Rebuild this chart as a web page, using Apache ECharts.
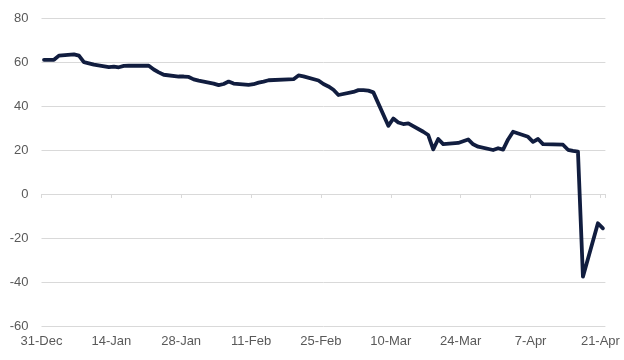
<!DOCTYPE html>
<html>
<head>
<meta charset="utf-8">
<script src="https://cdn.jsdelivr.net/npm/echarts@6/dist/echarts.min.js"></script>
<style>
html,body{margin:0;padding:0;background:#fff;}
#chart{width:624px;height:360px;}
</style>
</head>
<body>
<div id="chart"></div>
<script>
var startDate = '2019-12-31';
var tickLabels = ['31-Dec','14-Jan','28-Jan','11-Feb','25-Feb','10-Mar','24-Mar','7-Apr','21-Apr'];
var yTicks = [-60,-40,-20,0,20,40,60,80];
var dates = [
'2019-12-31','2020-01-02','2020-01-03','2020-01-06','2020-01-07','2020-01-08','2020-01-09','2020-01-10',
'2020-01-13','2020-01-14','2020-01-15','2020-01-16','2020-01-17','2020-01-21','2020-01-22','2020-01-23',
'2020-01-24','2020-01-27','2020-01-28','2020-01-29','2020-01-30','2020-01-31','2020-02-03','2020-02-04',
'2020-02-05','2020-02-06','2020-02-07','2020-02-10','2020-02-11','2020-02-12','2020-02-13','2020-02-14',
'2020-02-18','2020-02-19','2020-02-20','2020-02-21','2020-02-24','2020-02-25','2020-02-26','2020-02-27',
'2020-02-28','2020-03-02','2020-03-03','2020-03-04','2020-03-05','2020-03-06','2020-03-09','2020-03-10',
'2020-03-11','2020-03-12','2020-03-13','2020-03-16','2020-03-17','2020-03-18','2020-03-19','2020-03-20',
'2020-03-23','2020-03-24','2020-03-25','2020-03-26','2020-03-27','2020-03-30','2020-03-31','2020-04-01',
'2020-04-02','2020-04-03','2020-04-06','2020-04-07','2020-04-08','2020-04-09','2020-04-13','2020-04-14',
'2020-04-15','2020-04-16','2020-04-17','2020-04-20','2020-04-21'
];
var values = [
61.0,61.0,62.9,63.5,62.9,59.9,59.4,58.8,
57.7,57.9,57.6,58.2,58.3,58.3,56.6,55.3,
54.2,53.4,53.4,53.2,52.1,51.5,50.2,49.5,
50.0,51.1,50.2,49.6,49.9,50.6,51.1,51.7,
52.1,52.2,53.9,53.5,51.6,50.0,48.9,47.4,
45.0,46.4,47.2,47.2,47.0,46.2,31.0,34.3,
32.5,31.8,32.1,28.3,26.8,20.3,25.0,22.7,
23.2,24.0,24.8,22.6,21.5,20.0,20.8,20.2,
24.8,28.3,26.0,23.7,25.0,22.7,22.4,20.1,
19.6,19.3,-37.6,-13.3,-15.6
];

var DAY = 86400000;
var t0 = Date.parse(startDate + 'T00:00:00Z');
function dayNum(s){ return (Date.parse(s + 'T00:00:00Z') - t0) / DAY; }
// Excel date axis: points sit in the middle of their day slot
var seriesData = dates.map(function(d,i){ return [dayNum(d) + 0.5, values[i]]; });
var xMax = dayNum('2020-04-22');

var textColor = '#595959';
var gridColor = '#d9d9d9';
var font = 'Arial, "Liberation Sans", sans-serif';

var chart = echarts.init(document.getElementById('chart'), null, {renderer:'canvas'});
chart.setOption({
  animation: false,
  backgroundColor: '#ffffff',
  grid: {left: 41.5, right: 18.6, top: 18, bottom: 34, containLabel: false},
  xAxis: [{
    type: 'value', min: 0, max: xMax, interval: 14, position: 'bottom',
    axisLine: {show: false, onZero: false},
    axisTick: {show: false},
    splitLine: {show: false},
    axisLabel: {
      show: true, color: textColor, fontSize: 13, fontFamily: font, margin: 9,
      showMaxLabel: false,
      formatter: function(v){ var k = Math.round(v/14); return (Math.abs(v - k*14) < 1e-6 && tickLabels[k]) ? tickLabels[k] : ''; }
    }
  },{
    type: 'value', min: 0, max: xMax, interval: 14, position: 'top',
    axisLine: {show: true, onZero: true, onZeroAxisIndex: 0, lineStyle: {color: gridColor, width: 1}},
    axisTick: {show: true, inside: true, length: 4, lineStyle: {color: gridColor, width: 1}},
    axisLabel: {show: false},
    splitLine: {show: false}
  }],
  yAxis: {
    type: 'value', min: yTicks[0], max: yTicks[yTicks.length-1], interval: 20,
    axisLine: {show: false}, axisTick: {show: false},
    axisLabel: {color: textColor, fontSize: 13, fontFamily: font, margin: 13},
    splitLine: {show: true, lineStyle: {color: gridColor, width: 1}}
  },
  series: [{
    type: 'line', xAxisIndex: 0, data: seriesData, showSymbol: false, symbol: 'none',
    lineStyle: {color: '#111d3f', width: 3.8, join: 'round', cap: 'round'},
    smooth: false
  }]
});
</script>
</body>
</html>
